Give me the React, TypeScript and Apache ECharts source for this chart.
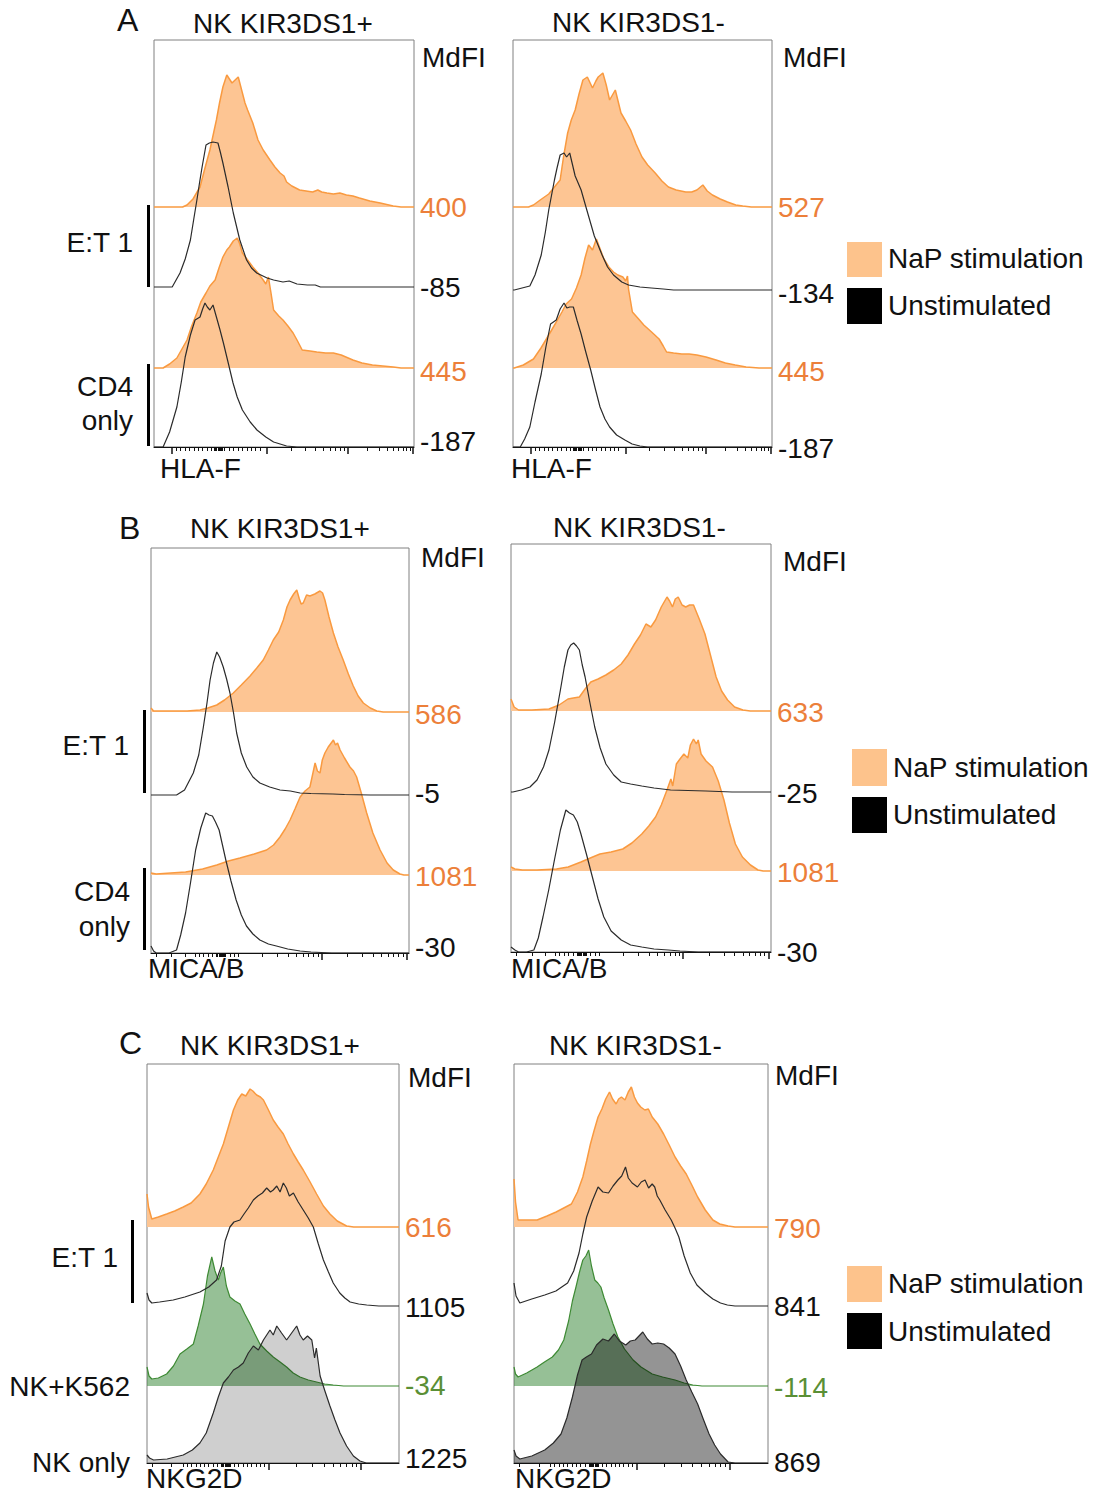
import React, { useEffect, useRef } from 'react';
import * as echarts from 'echarts';

type Pt = [number, number];

// ---------- Histogram data: [fluorescence (0-100 scale), count] ----------
// Panel A, KIR3DS1+
const aL_nap_et: Pt[] = [[0,0],[11,0],[12.7,2],[15,8],[17.7,20],[19.5,38],[21.5,57],[23,75],[24,87],[25.2,104],[26.5,120],[28,132],[29,128],[30,124],[31.2,127],[32.4,130],[33.2,122],[34,114],[35,104],[36,97],[38,84],[40,67],[42,57],[44.6,47],[46.5,40],[48.5,34],[50,31],[51,25],[53,21],[56,17],[58.5,16],[61,15],[63,17],[64.5,15],[66.5,14],[69,13],[71.5,14],[74,12],[76.5,11],[79,9],[83,6],[87,4],[92,1],[95,0],[100,0]];
const aL_uns_et: Pt[] = [[0,0],[7,0],[10,14],[12,28],[14,47],[15.3,68],[16.5,87],[17.5,104],[18.5,120],[20,142],[21.3,144],[22.7,145],[24.6,144],[25.5,135],[26.5,124],[28.5,100],[30.5,74],[33,47],[35.6,27],[37.5,19],[39.5,14],[43.5,9],[46,7],[49.6,5],[52,6],[55,3],[59,2],[62,2],[64,0],[100,0]];
const aL_nap_cd4: Pt[] = [[0,0],[3.5,0],[6,4],[8.8,10],[12.7,28],[14.5,42],[16.5,55],[18,66],[20,75],[21.5,82],[23.5,88],[25,100],[26.5,111],[28,118],[29,121],[30.5,127],[32,130],[33,124],[34,115],[36,108],[38,101],[40,95],[42,88],[43,84],[44,91],[45,75],[46,58],[48,52],[49.6,48],[51.5,42],[53.5,35],[55,28],[57,18],[60,17],[62.6,16],[66,15],[69,15],[72,13],[76.5,8],[80,5],[84,3],[88,2],[92,1],[95,0],[100,0]];
const aL_uns_cd4: Pt[] = [[0,0],[3.5,0],[6,15],[8.8,40],[10.5,65],[12,90],[14,112],[15.8,127],[17.7,130],[18.7,138],[19.6,144],[20.5,140],[21.5,137],[22.7,142],[24,130],[25.4,117],[26.7,104],[28,90],[30.4,64],[32,50],[34,37],[37,25],[39.6,17],[43,10],[46,5],[48.5,3],[51,1],[55,0],[100,0]];
// Panel A, KIR3DS1-
const aR_nap_et: Pt[] = [[0,0],[6,0],[7.9,2],[10.5,7],[13.8,13],[16,20],[18.2,27],[19.5,50],[21.1,74],[22.5,87],[24,97],[25.5,113],[27,127],[28.7,130],[30.7,119],[32,126],[32.9,130],[34.7,134],[36,122],[37.3,107],[39.5,117],[41.7,94],[43.5,86],[45.4,77],[47.5,63],[49.8,50],[52,42],[54.9,34],[57.5,26],[60,20],[63,17],[66.7,15],[69,15],[71,17],[73.3,22],[75,16],[77,12],[80,8],[82.8,5],[86,2],[88.7,1],[92,0],[100,0]];
const aR_uns_et: Pt[] = [[0,0],[0.5,0],[3.5,2],[6.5,4],[8.5,15],[10.9,35],[12.5,58],[13.8,80],[16,110],[17,122],[18.2,135],[19.7,137],[20.7,133],[21.9,137],[23,125],[24,114],[26.3,100],[28.5,80],[31.4,54],[34.4,35],[36.5,23],[38.8,15],[42,8],[44.6,5],[49,3],[53.4,2],[58,1],[62,0],[100,0]];
const aR_nap_cd4: Pt[] = [[0,0],[0.5,0],[4,3],[7.9,9],[10.8,20],[13.8,33],[16.5,45],[18.9,56],[20.5,64],[22.6,69],[24.5,80],[26.3,93],[27.8,110],[29.2,123],[30.7,118],[32.2,129],[33.5,120],[35.1,109],[37,101],[38.8,96],[40.5,93],[42.4,91],[43.5,87],[44.2,92],[44.6,79],[46.1,56],[48.5,49],[50.5,43],[53.5,36],[56.4,29],[58,22],[59.3,16],[62,15],[65.2,14],[68,14],[71,13],[74.5,11],[78.4,8],[82,5],[85.8,3],[90,1],[95,0],[100,0]];
const aR_uns_cd4: Pt[] = [[0,0],[2.8,0],[4.5,8],[6.5,20],[8.5,45],[10.9,73],[12.7,100],[14.5,123],[16.7,127],[18.2,138],[19.7,144],[20.8,139],[21.9,140],[23.3,140],[24.8,126],[26.3,113],[28,96],[30,77],[31.8,58],[33.6,40],[35.5,28],[37.3,20],[40,12],[43.2,7],[46,3],[49,1],[52,0],[100,0]];
// Panel B, KIR3DS1+
const bL_nap_et: Pt[] = [[0,4],[1,1],[8.5,1],[14,1],[19,2],[22,4],[25.5,7],[28.5,12],[31.9,19],[35,27],[38.4,36],[41,44],[43.5,52],[45.5,62],[47.4,72],[49.5,80],[51.3,92],[52.7,105],[53.9,112],[55.3,118],[56.5,122],[57.5,113],[58.2,108],[59,109],[60.3,117],[61.6,116],[63.5,118],[65.5,121],[66.5,119],[67.4,112],[69,95],[70.7,79],[72.5,65],[74.5,52],[76.5,38],[78.4,26],[80.3,16],[82.3,9],[85,4],[87.5,1],[90,0],[100,0]];
const bL_uns_et: Pt[] = [[0,0],[9.9,0],[13,5],[16.4,22],[18.5,40],[20.3,68],[21.7,92],[22.9,115],[24.2,132],[25.5,143],[26.6,138],[28,128],[29.3,116],[30.6,102],[32,82],[33.2,62],[35,42],[37.1,28],[39.5,18],[42.2,12],[46,8],[50,5],[54,4],[57.8,2],[62,1.5],[70.5,1],[75,0.5],[85,0],[100,0]];
const bL_nap_cd4: Pt[] = [[0,2],[2,1],[13.4,3],[20,6],[25.5,10],[30,14],[34.5,17],[40,21],[44.8,25],[47.5,30],[50,38],[52,46],[53.9,55],[55.8,66],[57.8,78],[59.7,84],[61.6,88],[62.6,100],[63.6,112],[64.5,104],[65.5,102],[66.4,115],[67.4,122],[68.7,128],[70.7,135],[71.5,130],[72.3,132],[73.3,125],[75,117],[77.1,108],[78.5,104],[79.7,98],[81.5,82],[83.6,62],[86,42],[88.8,25],[91.5,12],[93.9,5],[96.5,1],[98,0],[100,0]];
const bL_uns_cd4: Pt[] = [[0,7],[1,2],[2,0],[7,0],[9.9,3],[11.5,18],[13.4,40],[15.3,70],[17.3,103],[19.3,125],[21.2,140],[22.5,138],[23.8,137],[25,131],[26.4,123],[27.7,108],[29,93],[31,72],[33,53],[35,38],[37,27],[39.5,19],[42.2,13],[45.5,9],[48.6,7],[53,4],[57.8,2],[62,1],[70,0],[100,0]];
// Panel B, KIR3DS1-
const bR_nap_et: Pt[] = [[0,12],[1.2,4],[2.9,1],[8,1],[14.6,2],[18.5,6],[21.9,12],[24,13],[26.3,14],[28.5,22],[30.7,29],[33.5,32],[36.5,36],[39.5,41],[42.4,47],[45,56],[47.5,67],[49.8,76],[51.9,87],[53.8,84],[55.6,91],[57.8,104],[60,114],[61,110],[62.1,104],[63.2,112],[64.3,114],[65.8,106],[67.2,104],[68.7,106],[70.2,106],[72.4,92],[74.6,77],[76.8,55],[78.9,34],[81,20],[83.3,11],[86,4],[89.2,1],[92,0],[100,0]];
const bR_uns_et: Pt[] = [[0,0],[0.7,0],[4,2],[7.3,5],[10,12],[12.5,25],[14.6,42],[16.8,70],[19,102],[20.5,125],[21.9,142],[23,147],[24.1,149],[25.2,146],[26.3,142],[27.4,127],[28.5,115],[30.3,90],[32.2,65],[34.3,44],[36.5,28],[39.5,17],[42.4,10],[46,8],[50.3,6],[55,4],[61.4,2],[68,1.5],[75,1],[85,0],[100,0]];
const bR_nap_cd4: Pt[] = [[0,4],[1.5,2],[4.4,1],[10,1],[17.5,2],[22,4],[26.9,9],[30.5,13],[34.2,17],[38.5,19],[43,22],[46.5,28],[50.3,37],[53,45],[55.6,54],[57.8,66],[60,81],[61.5,92],[62.2,85],[63.6,107],[65,112],[66.5,117],[68,113],[69,126],[70.2,132],[71.3,127],[72,131],[73.1,117],[75,110],[77.5,104],[79.7,90],[81.9,71],[84,48],[86.3,27],[89,14],[92.1,6],[95,1],[97,0],[100,0]];
const bR_uns_cd4: Pt[] = [[0,5],[1.5,2],[2.9,0],[6,0],[8.8,2],[10.5,14],[12.3,35],[14.5,62],[16.7,92],[19,122],[21.1,142],[22.5,139],[24,137],[25.5,130],[26.9,118],[29,98],[31.3,75],[33.5,53],[35.7,35],[38.5,21],[42.4,12],[46,7],[50.3,5],[55,3],[60.5,2],[65,1],[72,0],[100,0]];
// Panel C, KIR3DS1+
const cL_nap_et: Pt[] = [[0,33],[0.6,20],[1.9,8],[4.5,10],[7.8,13],[11,16],[14.4,20],[17.5,24],[21,33],[23.5,43],[26.3,57],[28.3,70],[30.3,83],[32.3,100],[34.3,117],[36,127],[37.6,133],[39.2,131],[40.9,138],[42,136],[43.5,132],[45,130],[46.2,127],[48,118],[50.1,107],[52,100],[54.1,93],[56,83],[58.1,73],[60,65],[62,57],[64.5,46],[67.3,33],[70,21],[72.6,13],[75.5,6],[79.2,1],[82,0],[100,0]];
const cL_uns_et: Pt[] = [[0,13],[0.8,6],[1.9,3],[5,4],[10.4,6],[15,9],[21,14],[24.5,19],[27.6,26],[29.5,40],[31,65],[32.9,79],[34.5,84],[36.9,86],[38.5,92],[40.2,98],[42.2,106],[44,110],[45.8,113],[47.5,118],[49,114],[50.1,116],[51.5,120],[52.8,114],[54.1,123],[55.3,118],[56.5,110],[58.1,113],[60,104],[62,96],[64,88],[66,79],[68,62],[70,46],[72,34],[73.9,23],[76.5,13],[78.5,8],[80.6,4],[84,2],[87.2,1],[92,0],[100,0]];
const cL_k562: Pt[] = [[0,19],[0.8,10],[1.9,7],[4.5,8],[7.8,12],[10.5,20],[13.1,32],[15.8,37],[18.4,42],[20.3,60],[22.4,82],[24,110],[25.7,129],[27,115],[28.3,106],[29.2,113],[30.3,119],[31.5,100],[32.9,89],[34.9,85],[36.9,82],[38.8,72],[40.9,62],[42.8,52],[44.8,42],[47.5,35],[50.1,29],[52.8,24],[55.4,19],[58,13],[60.7,9],[64,6],[67.3,4],[70.5,2],[73.9,1],[78,0],[100,0]];
const cL_nkonly: Pt[] = [[0,8],[1,5],[2.6,3],[8,4],[14.4,8],[18,13],[21,20],[23.5,30],[26.3,50],[28.3,66],[30.3,80],[32.3,86],[34.3,93],[36.3,96],[38.2,100],[40.2,110],[42.2,117],[44.2,113],[46.2,123],[47.5,128],[48.8,133],[50.1,128],[51.5,137],[53.4,130],[55.4,123],[57.4,130],[59.4,137],[60.7,128],[62,123],[63.7,127],[65.4,123],[66.5,105],[67.2,115],[68.7,87],[70.6,72],[72.6,57],[74.6,43],[76.6,30],[79.2,17],[81.9,7],[84.5,2],[87,0],[100,0]];
// Panel C, KIR3DS1-
const cR_nap_et: Pt[] = [[0,48],[0.6,25],[1.6,7],[5,7],[9.1,7],[13,11],[16.6,15],[19.6,19],[22.6,23],[25,35],[27.1,50],[28.6,66],[30.1,83],[31.6,97],[33.1,110],[34.6,118],[36.1,128],[37.6,135],[38.8,128],[40.2,123],[41.2,128],[42.3,130],[43.7,127],[45,135],[46.2,140],[47.4,130],[48.6,124],[49.9,120],[51.5,117],[52.9,118],[54.4,110],[56.6,103],[58.9,93],[61.1,82],[63.4,70],[65.6,61],[67.8,53],[70,42],[72.3,30],[75.3,17],[78.3,7],[81,3],[84.3,1],[87,0],[100,0]];
const cR_uns_et: Pt[] = [[0,23],[0.8,10],[2.3,3],[7,7],[12.1,11],[16.5,15],[21.1,23],[23.5,35],[25.6,53],[27.1,72],[28.6,89],[30.8,105],[33.1,119],[35,114],[37.2,113],[39,120],[40.9,126],[42.4,130],[43.9,139],[45,128],[46.5,123],[48.6,119],[50.1,124],[51.6,126],[53,118],[54.4,122],[55.4,119],[56.4,110],[57.4,106],[59.5,96],[61.9,86],[63.4,78],[64.9,69],[67,50],[69.4,33],[72,21],[75.3,13],[78.3,7],[81.3,3],[84,1],[87,0],[100,0]];
const cR_k562: Pt[] = [[0,19],[0.6,12],[1.6,9],[5,13],[9.1,19],[12,24],[15.1,29],[17.5,36],[19.6,46],[21.5,65],[23,85],[24.4,99],[25.8,114],[27.1,126],[28.3,130],[29.4,136],[30.5,120],[31.8,106],[33,103],[34.2,99],[35.5,88],[37.2,76],[39,62],[40.9,49],[43.5,37],[46.9,26],[50,19],[54.4,12],[58.5,9],[63.4,6],[67,3],[70.4,1],[74,0],[100,0]];
const cR_nkonly: Pt[] = [[0,13],[0.8,7],[2.3,4],[7,7],[12.1,13],[15.5,20],[18.5,29],[20.8,45],[23,66],[25,88],[26.8,103],[28.5,106],[30.5,109],[32.5,118],[35,124],[37.2,122],[39.5,129],[41.5,122],[44,118],[45.8,122],[47.7,123],[49.2,127],[50.7,131],[52.5,124],[54.4,119],[56.6,120],[58.9,119],[61.1,115],[63.4,109],[65.6,97],[67.8,83],[70,71],[72.3,59],[74.5,44],[76.8,29],[79,18],[81.3,9],[84.3,1],[87,0],[100,0]];

// ---------- MdFI labels (top trace to bottom trace) ----------
const mdfiA_pos = ['400', '-85', '445', '-187'];
const mdfiA_neg = ['527', '-134', '445', '-187'];
const mdfiB_pos = ['586', '-5', '1081', '-30'];
const mdfiB_neg = ['633', '-25', '1081', '-30'];
const mdfiC_pos = ['616', '1105', '-34', '1225'];
const mdfiC_neg = ['790', '841', '-114', '869'];

// ---------- Axis tick positions (biexponential scale) ----------
const ticksA = { major: [6.8, 43.4, 74.6, 99.6], low: [] as number[], dense: [8.5, 42], blob: [23.2, 26.6], decades: [[43.4, 74.6], [74.6, 99.6]] };
const ticksB = { major: [66.2, 99.1], low: [2.2, 8, 13.2], dense: [17, 34], blob: [25.4, 28.6], decades: [[33.3, 66.2], [66.2, 99.1]] };
const ticksC = { major: [48.2, 84.8], low: [2, 9.8], dense: [14.3, 47], blob: [30, 33.5], decades: [[48.2, 84.8]] };

const FONT = '"Liberation Sans", Arial, Helvetica, sans-serif';
const FS = 28;
const NAP_FILL = '#FDC593';
const NAP_LINE = '#F99A40';
const NAP_LABEL = '#EC7F3A';
const UNS_LINE = '#2b2b2b';
const GREEN_FILL = 'rgba(64,140,64,0.55)';
const GREEN_LINE = '#3E8A34';
const GREEN_LABEL = '#5A8F35';

type Kind = 'nap' | 'uns' | 'green' | 'grayL' | 'grayD';
interface Trace { d: Pt[]; kind: Kind; }
interface Panel { rect: [number, number, number, number]; offsets: number[]; traces: Trace[]; labels: string[]; dy: number[]; ticks: typeof ticksA; }

const PANELS: Panel[] = [
  { rect: [154, 40, 260, 407], offsets: [240, 160, 79, 0], labels: mdfiA_pos, dy: [0, 0, 3, -6], ticks: ticksA,
    traces: [{ d: aL_nap_et, kind: 'nap' }, { d: aL_uns_et, kind: 'uns' }, { d: aL_nap_cd4, kind: 'nap' }, { d: aL_uns_cd4, kind: 'uns' }] },
  { rect: [513, 40, 259, 407], offsets: [240, 157, 79, 0], labels: mdfiA_neg, dy: [0, 3, 3, 1], ticks: ticksA,
    traces: [{ d: aR_nap_et, kind: 'nap' }, { d: aR_uns_et, kind: 'uns' }, { d: aR_nap_cd4, kind: 'nap' }, { d: aR_uns_cd4, kind: 'uns' }] },
  { rect: [151, 548, 258, 405], offsets: [241, 158, 78, 0], labels: mdfiB_pos, dy: [2, -2, 1, -6], ticks: ticksB,
    traces: [{ d: bL_nap_et, kind: 'nap' }, { d: bL_uns_et, kind: 'uns' }, { d: bL_nap_cd4, kind: 'nap' }, { d: bL_uns_cd4, kind: 'uns' }] },
  { rect: [511, 544, 260, 408], offsets: [241, 160, 81, 0], labels: mdfiB_neg, dy: [1, 1, 1, 0], ticks: ticksB,
    traces: [{ d: bR_nap_et, kind: 'nap' }, { d: bR_uns_et, kind: 'uns' }, { d: bR_nap_cd4, kind: 'nap' }, { d: bR_uns_cd4, kind: 'uns' }] },
  { rect: [147, 1064, 252, 399], offsets: [236, 157, 77, 0], labels: mdfiC_pos, dy: [0, 1, -1, -5], ticks: ticksC,
    traces: [{ d: cL_nap_et, kind: 'nap' }, { d: cL_uns_et, kind: 'uns' }, { d: cL_k562, kind: 'green' }, { d: cL_nkonly, kind: 'grayL' }] },
  { rect: [514, 1064, 254, 399], offsets: [236, 157, 77, 0], labels: mdfiC_neg, dy: [1, 0, 1, -1], ticks: ticksC,
    traces: [{ d: cR_nap_et, kind: 'nap' }, { d: cR_uns_et, kind: 'uns' }, { d: cR_k562, kind: 'green' }, { d: cR_nkonly, kind: 'grayD' }] },
];

function buildMinor(t: typeof ticksA): number[] {
  const out: number[] = [...t.low];
  for (let v = t.dense[0]; v <= t.dense[1]; v += 1.7) out.push(+v.toFixed(2));
  for (let v = t.blob[0]; v <= t.blob[1]; v += 0.45) out.push(+v.toFixed(2));
  t.decades.forEach(([a, b]) => { for (let k = 2; k <= 9; k++) out.push(+(a + (b - a) * Math.log10(k)).toFixed(2)); });
  return out;
}

function styleFor(kind: Kind) {
  switch (kind) {
    case 'nap': return { line: NAP_LINE, fill: NAP_FILL, label: NAP_LABEL, z: 2 };
    case 'green': return { line: GREEN_LINE, fill: GREEN_FILL, label: GREEN_LABEL, z: 2 };
    case 'grayL': return { line: UNS_LINE, fill: 'rgba(0,0,0,0.19)', label: '#111', z: 3 };
    case 'grayD': return { line: UNS_LINE, fill: 'rgba(0,0,0,0.42)', label: '#111', z: 3 };
    default: return { line: UNS_LINE, fill: null as string | null, label: '#111', z: 4 };
  }
}

interface TextSpec { t: string; x: number; y: number; size?: number; align?: 'left' | 'right' | 'center'; }
const TEXTS: TextSpec[] = [
  { t: 'A', x: 117, y: 20, size: 32 }, { t: 'NK KIR3DS1+', x: 193, y: 23 }, { t: 'NK KIR3DS1-', x: 552, y: 22 },
  { t: 'MdFI', x: 422, y: 57 }, { t: 'MdFI', x: 783, y: 57 },
  { t: 'E:T 1', x: 133, y: 242, align: 'right' }, { t: 'CD4', x: 133, y: 386, align: 'right' }, { t: 'only', x: 133, y: 420, align: 'right' },
  { t: 'HLA-F', x: 160, y: 468 }, { t: 'HLA-F', x: 511, y: 468 },
  { t: 'NaP stimulation', x: 888, y: 258 }, { t: 'Unstimulated', x: 888, y: 305 },
  { t: 'B', x: 119, y: 528, size: 32 }, { t: 'NK KIR3DS1+', x: 190, y: 528 }, { t: 'NK KIR3DS1-', x: 553, y: 527 },
  { t: 'MdFI', x: 421, y: 557 }, { t: 'MdFI', x: 783, y: 561 },
  { t: 'E:T 1', x: 129, y: 745, align: 'right' }, { t: 'CD4', x: 130, y: 891, align: 'right' }, { t: 'only', x: 130, y: 926, align: 'right' },
  { t: 'MICA/B', x: 148, y: 968 }, { t: 'MICA/B', x: 511, y: 968 },
  { t: 'NaP stimulation', x: 893, y: 767 }, { t: 'Unstimulated', x: 893, y: 814 },
  { t: 'C', x: 119, y: 1043, size: 32 }, { t: 'NK KIR3DS1+', x: 180, y: 1045 }, { t: 'NK KIR3DS1-', x: 549, y: 1045 },
  { t: 'MdFI', x: 408, y: 1077 }, { t: 'MdFI', x: 775, y: 1075 },
  { t: 'E:T 1', x: 118, y: 1257, align: 'right' }, { t: 'NK+K562', x: 130, y: 1386, align: 'right' }, { t: 'NK only', x: 130, y: 1462, align: 'right' },
  { t: 'NKG2D', x: 146, y: 1478 }, { t: 'NKG2D', x: 515, y: 1478 },
  { t: 'NaP stimulation', x: 888, y: 1283 }, { t: 'Unstimulated', x: 888, y: 1331 },
];
const RECTS: { x: number; y: number; w: number; h: number; c: string }[] = [
  { x: 847, y: 242, w: 35, h: 35, c: '#FDC38C' }, { x: 847, y: 288, w: 35, h: 36, c: '#000' },
  { x: 852, y: 749, w: 35, h: 37, c: '#FDC38C' }, { x: 852, y: 797, w: 35, h: 36, c: '#000' },
  { x: 847, y: 1266, w: 35, h: 36, c: '#FDC38C' }, { x: 847, y: 1313, w: 35, h: 36, c: '#000' },
  { x: 147, y: 205, w: 3, h: 82, c: '#000' }, { x: 147, y: 364, w: 3, h: 82, c: '#000' },
  { x: 143, y: 710, w: 3, h: 83, c: '#000' }, { x: 143, y: 868, w: 3, h: 82, c: '#000' },
  { x: 131, y: 1220, w: 3, h: 83, c: '#000' },
];

export default function App() {
  const ref = useRef<HTMLDivElement>(null);
  useEffect(() => {
    if (!ref.current) return;
    const chart = echarts.init(ref.current, undefined, { renderer: 'svg' });
    const grid: any[] = [], xAxis: any[] = [], yAxis: any[] = [], series: any[] = [];
    PANELS.forEach((p, i) => {
      const [l, t, w, h] = p.rect;
      grid.push({ left: l, top: t, width: w, height: h, show: true, borderColor: '#808080', borderWidth: 1, backgroundColor: 'transparent' });
      yAxis.push({ gridIndex: i, type: 'value', min: 0, max: h, show: false });
      xAxis.push({ gridIndex: i, type: 'value', min: 0, max: 100, position: 'bottom',
        axisLine: { show: true, lineStyle: { color: '#111', width: 1 } },
        axisTick: { show: true, inside: false, length: 7, customValues: p.ticks.major, lineStyle: { color: '#111', width: 1.5 } },
        axisLabel: { show: false }, splitLine: { show: false } });
      xAxis.push({ gridIndex: i, type: 'value', min: 0, max: 100, position: 'bottom',
        axisLine: { show: false },
        axisTick: { show: true, inside: false, length: 4, customValues: buildMinor(p.ticks), lineStyle: { color: '#111', width: 1 } },
        axisLabel: { show: false }, splitLine: { show: false } });
      const order = p.traces.map((tr, k) => ({ tr, k })).sort((a, b) => styleFor(a.tr.kind).z - styleFor(b.tr.kind).z);
      order.forEach(({ tr, k }) => {
        const st = styleFor(tr.kind);
        const off = p.offsets[k];
        const label = p.labels[k];
        series.push({
          type: 'line', xAxisIndex: 2 * i, yAxisIndex: i, z: st.z, silent: true,
          data: tr.d.map(([x, v]) => [x, v + off]),
          symbol: 'none', showSymbol: false, smooth: false,
          lineStyle: { color: st.line, width: tr.kind === 'nap' ? 1.5 : 1.2 },
          areaStyle: st.fill ? { color: st.fill, origin: off, opacity: 1 } : undefined,
          endLabel: { show: true, formatter: () => label, color: st.label, fontSize: FS, fontFamily: FONT, distance: 6, offset: [0, p.dy[k]] },
        });
      });
    });
    const graphic: any[] = [];
    TEXTS.forEach((s) => {
      const align = s.align || 'left';
      graphic.push({ type: 'text', silent: true, style: { text: s.t, x: s.x, y: s.y, font: `${s.size || FS}px ${FONT}`, fill: '#111',
        textAlign: align, align, textVerticalAlign: 'middle', verticalAlign: 'middle' } });
    });
    RECTS.forEach((r) => graphic.push({ type: 'rect', silent: true, shape: { x: r.x, y: r.y, width: r.w, height: r.h }, style: { fill: r.c } }));
    chart.setOption({ animation: false, grid, xAxis, yAxis, series, graphic });
    return () => chart.dispose();
  }, []);
  return <div ref={ref} style={{ position: 'absolute', left: 0, top: 0, width: 1094, height: 1492, background: '#fff' }} />;
}
